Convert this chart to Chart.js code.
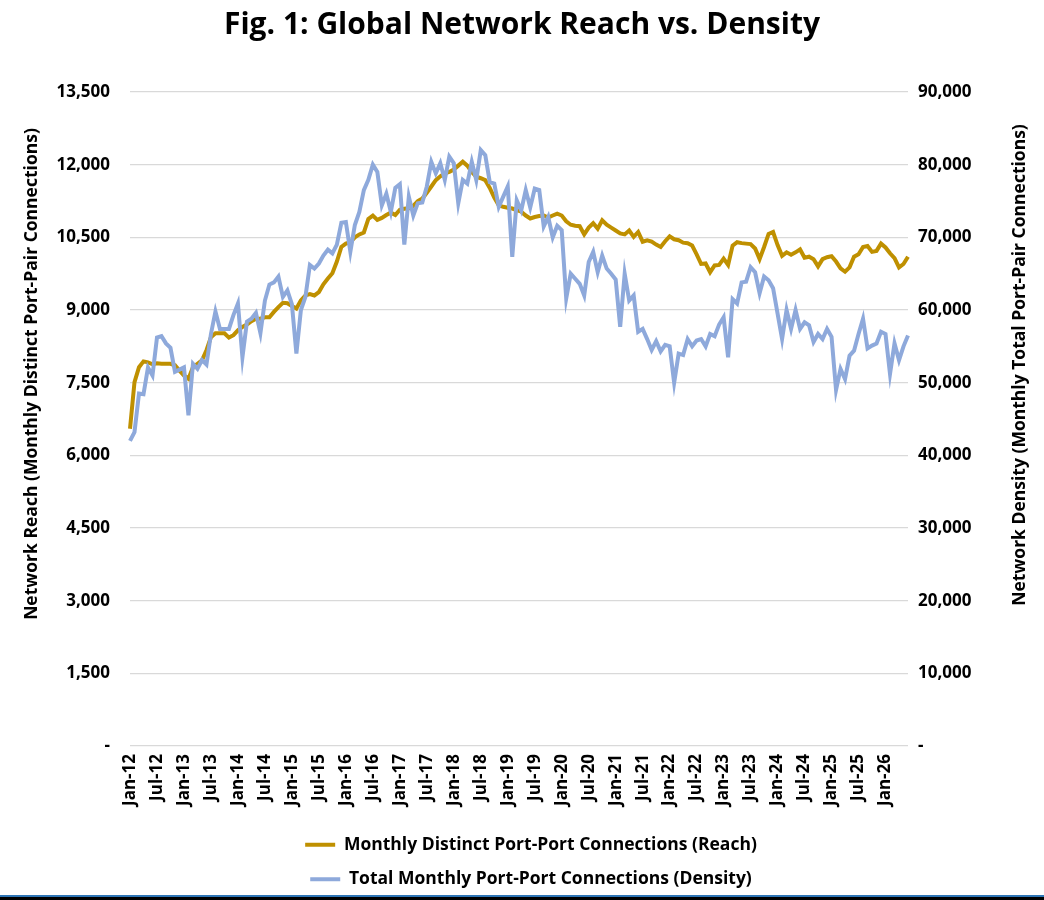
<!DOCTYPE html>
<html><head><meta charset="utf-8">
<script src="https://cdn.jsdelivr.net/npm/chart.js@4.4.1/dist/chart.umd.min.js"></script>
<style>
html,body{margin:0;padding:0;background:#fff;}
#wrap{width:1044px;height:900px;position:relative;overflow:hidden;}
#c{display:block;}
#blue{position:absolute;left:0;top:895px;width:1044px;height:2px;background:#2E75B6;}
#black{position:absolute;left:0;top:897px;width:1044px;height:3px;background:#000;}
</style></head><body>
<div id="wrap"><canvas id="c" width="1044" height="900"></canvas><div id="blue"></div><div id="black"></div></div>
<script>
// Categories: monthly, Jan-12 .. Jun-26
const monthNames = ['Jan','Feb','Mar','Apr','May','Jun','Jul','Aug','Sep','Oct','Nov','Dec'];
const startYear = 2012;
const monthCount = 174;
const categories = [];
for (let i = 0; i < monthCount; i++) {
  const y = startYear + Math.floor(i / 12);
  categories.push(monthNames[i % 12] + '-' + String(y % 100).padStart(2, '0'));
}

// Monthly Distinct Port-Port Connections (Reach) - left axis
const reach = [
  6550, 7510, 7820, 7940, 7920, 7880, 7900, 7890, 7890, 7890,
  7860, 7750, 7650, 7580, 7820, 7890, 7960, 8170, 8440, 8520,
  8520, 8520, 8430, 8480, 8580, 8650, 8700, 8770, 8820, 8820,
  8850, 8850, 8960, 9060, 9150, 9140, 9080, 9030, 9200, 9300,
  9330, 9300, 9370, 9530, 9650, 9760, 10000, 10300, 10370, 10400,
  10500, 10560, 10600, 10880, 10950, 10860, 10900, 10960, 11010, 10960,
  11070, 11090, 11100, 11150, 11250, 11300, 11420, 11550, 11680, 11760,
  11820, 11850, 11900, 11980, 12060, 11980, 11850, 11750, 11720, 11680,
  11520, 11320, 11160, 11130, 11110, 11095, 11060, 11030, 10950, 10890,
  10920, 10940, 10950, 10910, 10950, 10990, 10950, 10830, 10760, 10740,
  10730, 10560, 10700, 10790, 10680, 10850, 10760, 10700, 10640, 10580,
  10560, 10640, 10510, 10610, 10410, 10440, 10410, 10350, 10300, 10420,
  10520, 10460, 10440, 10390, 10380, 10330, 10150, 9950, 9960, 9780,
  9920, 9930, 10060, 9930, 10330, 10400, 10380, 10370, 10360, 10270,
  10050, 10300, 10570, 10610, 10340, 10120, 10190, 10140, 10190, 10250,
  10080, 10100, 10050, 9900, 10050, 10090, 10110, 10000, 9860, 9790,
  9880, 10100, 10150, 10300, 10320, 10200, 10220, 10370, 10290, 10170,
  10070, 9880, 9950, 10100
];

// Total Monthly Port-Port Connections (Density) - right axis
const density = [
  42000, 43200, 48500, 48400, 52100, 51000, 56200, 56400, 55400, 54800,
  51500, 51800, 52100, 45500, 52600, 51900, 53100, 52500, 56700, 59800,
  57400, 57400, 57400, 59300, 60900, 53500, 58400, 58800, 59600, 56800,
  61300, 63500, 63800, 64600, 61800, 62700, 60800, 54000, 60000, 61800,
  66200, 65700, 66400, 67500, 68300, 67800, 69000, 72000, 72100, 68000,
  71700, 73500, 76500, 77900, 80000, 79000, 74400, 76000, 73500, 76800,
  77300, 69000, 75600, 73000, 74700, 74800, 77000, 80400, 78800, 80200,
  77900, 81100, 80200, 74700, 77900, 77400, 80400, 77900, 82000, 81300,
  77600, 77400, 74200, 75600, 77000, 67300, 75100, 73700, 76500, 74100,
  76700, 76500, 71500, 72800, 70000, 71600, 71000, 61600, 65000, 64300,
  63600, 62000, 66600, 68000, 65200, 67500, 65700, 65000, 64200, 57700,
  65000, 61300, 62000, 57000, 57400, 56000, 54500, 55700, 54300, 55200,
  55000, 50000, 54000, 53800, 56000, 55000, 55800, 56000, 55000, 56700,
  56400, 58000, 59000, 53500, 61500, 60900, 63800, 63900, 65900, 65200,
  62300, 64600, 64100, 63000, 59500, 56000, 60000, 57400, 60000, 57400,
  58300, 57900, 55600, 56700, 56000, 57400, 56300, 49000, 51900, 50500,
  53700, 54400, 56700, 58800, 54700, 55100, 55400, 57000, 56700, 51200,
  55400, 53100, 55000, 56500
];

// Axis tick settings
const leftTicks = { min: 0, max: 13500, step: 1500 };
const rightTicks = { min: 0, max: 90000, step: 10000 };
const labelEvery = 6;

const titleText = 'Fig. 1: Global Network Reach vs. Density';
const leftTitle = 'Network Reach (Monthly Distinct Port-Pair Connections)';
const rightTitle = 'Network Density (Monthly Total Port-Pair Connections)';
const reachName = 'Monthly Distinct Port-Port Connections (Reach)';
const densityName = 'Total Monthly Port-Port Connections (Density)';

const FONT = '"Open Sans", "Noto Sans", sans-serif';

function fmt(v) { return v === 0 ? '-' : v.toLocaleString('en-US'); }

const axisTitles = {
  id: 'axisTitles',
  afterLayout(chart) {
    // nudge the legend block slightly right, as in the reference
    if (chart.legend) { chart.legend.left += 12; chart.legend.right += 12; }
  },
  afterDraw(chart) {
    const ctx = chart.ctx;
    ctx.save();
    ctx.font = 'bold 17.5px ' + FONT;
    ctx.fillStyle = '#000';
    ctx.textAlign = 'center';
    ctx.textBaseline = 'middle';
    ctx.save(); ctx.translate(32, 374); ctx.rotate(-Math.PI / 2); ctx.fillText(leftTitle, 0, 0); ctx.restore();
    ctx.save(); ctx.translate(1020, 365); ctx.rotate(-Math.PI / 2); ctx.fillText(rightTitle, 0, 0); ctx.restore();
    ctx.restore();
  }
};

function draw() {
  Chart.defaults.font.family = FONT;
  Chart.defaults.color = '#000';
  new Chart(document.getElementById('c'), {
    type: 'line',
    data: {
      labels: categories,
      datasets: [
        { label: reachName, data: reach, yAxisID: 'y', borderColor: '#BF9000', backgroundColor: '#BF9000',
          borderWidth: 4, pointRadius: 0, tension: 0, order: 1 },
        { label: densityName, data: density, yAxisID: 'y1', borderColor: '#8EA9DB', backgroundColor: '#8EA9DB',
          borderWidth: 4, pointRadius: 0, tension: 0, order: 0 }
      ]
    },
    options: {
      responsive: false,
      animation: false,
      devicePixelRatio: 1,
      layout: { padding: { top: 0, bottom: 2, left: 0, right: 0 } },
      plugins: {
        title: { display: true, text: titleText, font: { size: 30, weight: 'bold' }, color: '#000',
                 padding: { top: 7, bottom: 49 } },
        legend: {
          position: 'bottom', fullSize: false,
          labels: {
            usePointStyle: true, pointStyle: 'line', pointStyleWidth: 30,
            font: { size: 17.5, weight: 'bold' }, color: '#000', padding: 17,
            sort: (a, b) => a.datasetIndex - b.datasetIndex
          }
        },
        tooltip: { enabled: false }
      },
      scales: {
        x: {
          type: 'category',
          offset: false,
          grid: { display: false, drawTicks: false },
          border: { display: false },
          ticks: {
            autoSkip: false, maxRotation: 90, minRotation: 90, padding: 8,
            font: { size: 17, weight: 'bold' }, color: '#000',
            callback: (v, i) => (i % labelEvery === 0 ? categories[i] : '')
          },
          afterFit: (s) => { s.height = 73; }
        },
        y: {
          position: 'left',
          min: leftTicks.min, max: leftTicks.max,
          grid: { color: '#D9D9D9', lineWidth: 1.3, drawTicks: false },
          border: { display: false },
          ticks: { stepSize: leftTicks.step, padding: 20, font: { size: 17, weight: 'bold' }, color: '#000',
                   callback: (v) => fmt(v) },
          afterFit: (s) => { s.width = 130; }
        },
        y1: {
          position: 'right',
          min: rightTicks.min, max: rightTicks.max,
          grid: { drawOnChartArea: false, drawTicks: false },
          border: { display: false },
          ticks: { stepSize: rightTicks.step, padding: 10, font: { size: 17, weight: 'bold' }, color: '#000',
                   callback: (v) => fmt(v) },
          afterFit: (s) => { s.width = 136; }
        }
      }
    },
    plugins: [axisTitles]
  });
}

if (document.fonts && document.fonts.load) {
  Promise.all([
    document.fonts.load('bold 16px "Open Sans"'),
    document.fonts.load('16px "Open Sans"')
  ]).then(draw, draw);
} else { draw(); }
</script>
</body></html>
